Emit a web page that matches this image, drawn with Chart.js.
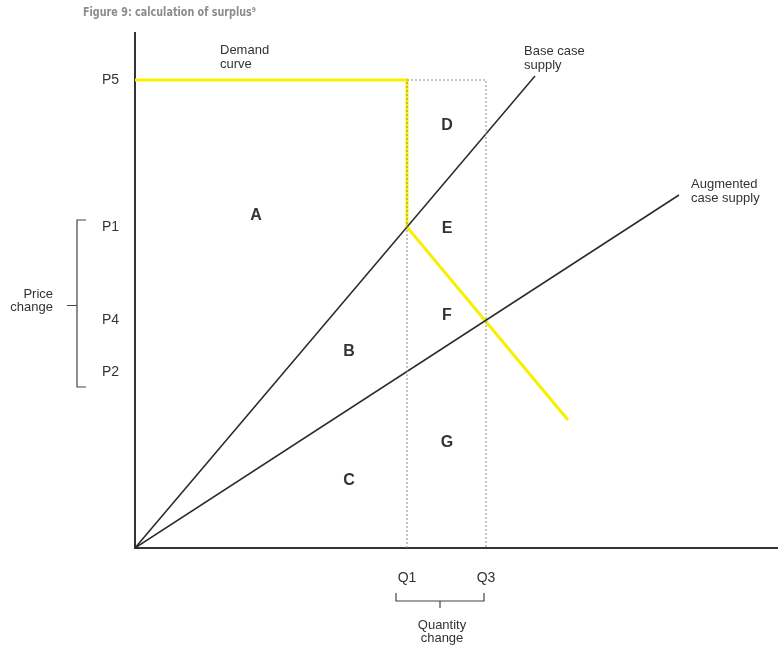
<!DOCTYPE html>
<html>
<head>
<meta charset="utf-8">
<style>
  html, body { margin: 0; padding: 0; background: #fff; }
  #wrap { width: 778px; height: 650px; }
</style>
<script src="https://cdn.jsdelivr.net/npm/chart.js@4.4.1/dist/chart.umd.min.js"></script>
</head>
<body>
<div id="wrap"><canvas id="surplusChart"></canvas></div>
<script>
// quantities / prices in arbitrary units, origin at 0,0
const qTicks = [272, 351];
const qLabels = ['Q1', 'Q3'];
const pTicks = [468, 321, 228, 176];
const pLabels = ['P5', 'P1', 'P4', 'P2'];

const baseSupply = [[0, 0], [400, 472]];
const augSupply = [[0, 0], [544, 353]];
const demand = [[0, 468], [272, 468], [272, 321], [433, 128]];
const quantityBox = [[272, 0], [272, 468], [351, 468], [351, 0]];

const areaNames = ['A', 'B', 'C', 'D', 'E', 'F', 'G'];
const areaQ = [121, 214, 214, 312, 312, 312, 312];
const areaP = [332, 196, 67, 422, 319, 232, 105];

const curveNames = [['Demand', 'curve'], ['Base case', 'supply'], ['Augmented', 'case supply']];
const curveQ = [85, 389, 556];
const curveP = [498, 497, 364];

const toPts = (arr) => arr.map(p => ({ x: p[0], y: p[1] }));

const annotations = {
    id: 'annotations',
    afterDatasetsDraw(chart) {
        const { ctx } = chart;
        const xs = chart.scales.x;
        const ys = chart.scales.y;
        ctx.save();

        // title, squeezed to look like the narrow report font
        ctx.fillStyle = '#8c8c8c';
        ctx.font = 'bold 13px "Liberation Sans Narrow", "DejaVu Sans", sans-serif';
        ctx.textBaseline = 'middle';
        ctx.textAlign = 'left';
        const title = 'Figure 9: calculation of surplus\u2079';
        const w = ctx.measureText(title).width;
        const sx = Math.min(1, 173 / w);
        ctx.save();
        ctx.translate(83, 13);
        ctx.scale(sx, 1);
        ctx.fillText(title, 0, 0);
        ctx.restore();

        // area letters
        ctx.fillStyle = '#333';
        ctx.font = 'bold 16px "Liberation Sans", Arial, sans-serif';
        ctx.textAlign = 'center';
        areaNames.forEach((n, i) => {
            ctx.fillText(n, xs.getPixelForValue(areaQ[i]), ys.getPixelForValue(areaP[i]));
        });

        // curve labels
        ctx.font = '13px "Liberation Sans", Arial, sans-serif';
        ctx.textAlign = 'left';
        curveNames.forEach((lines, i) => {
            const x = xs.getPixelForValue(curveQ[i]);
            const y = ys.getPixelForValue(curveP[i]);
            lines.forEach((t, j) => ctx.fillText(t, x, y + j * 14));
        });

        // price change bracket
        ctx.strokeStyle = '#444';
        ctx.lineWidth = 1.2;
        const bx = 77;
        const top = ys.getPixelForValue(pTicks[1]) - 7;
        const bot = ys.getPixelForValue(pTicks[3]) + 15;
        const mid = (top + bot) / 2 + 2;
        ctx.beginPath();
        ctx.moveTo(bx + 9, top); ctx.lineTo(bx, top); ctx.lineTo(bx, bot); ctx.lineTo(bx + 9, bot);
        ctx.moveTo(bx, mid); ctx.lineTo(bx - 10, mid);
        ctx.stroke();
        ctx.textAlign = 'right';
        ctx.fillText('Price', 53, mid - 11);
        ctx.fillText('change', 53, mid + 2);

        // quantity change bracket
        const left = xs.getPixelForValue(qTicks[0]) - 11;
        const right = xs.getPixelForValue(qTicks[1]) - 2;
        const by = 601;
        const cx = (left + right) / 2;
        ctx.beginPath();
        ctx.moveTo(left, by - 8); ctx.lineTo(left, by); ctx.lineTo(right, by); ctx.lineTo(right, by - 8);
        ctx.moveTo(cx, by); ctx.lineTo(cx, by + 7);
        ctx.stroke();
        ctx.textAlign = 'center';
        ctx.fillText('Quantity', cx + 2, 625);
        ctx.fillText('change', cx + 2, 638);

        ctx.restore();
    }
};

const ctx = document.getElementById('surplusChart');
new Chart(ctx, {
    type: 'scatter',
    data: {
        datasets: [
            {
                data: toPts(quantityBox),
                showLine: true,
                borderColor: '#8a8a8a',
                borderWidth: 1,
                borderDash: [2, 2],
                pointRadius: 0,
                tension: 0
            },
            {
                data: toPts(baseSupply),
                showLine: true,
                borderColor: '#2a2a2a',
                borderWidth: 1.5,
                pointRadius: 0
            },
            {
                data: toPts(augSupply),
                showLine: true,
                borderColor: '#2a2a2a',
                borderWidth: 1.5,
                pointRadius: 0
            },
            {
                data: toPts(demand),
                showLine: true,
                borderColor: '#f7f000',
                borderWidth: 3,
                pointRadius: 0
            }
        ]
    },
    options: {
        responsive: true,
        maintainAspectRatio: false,
        animation: false,
        events: [],
        layout: { padding: { top: 33, left: 0, right: 0, bottom: 0 } },
        plugins: {
            legend: { display: false },
            title: { display: false },
            tooltip: { enabled: false }
        },
        scales: {
            x: {
                type: 'linear',
                min: 0,
                max: 643,
                grid: { display: false, drawTicks: false },
                border: { color: '#333', width: 2 },
                afterBuildTicks: (scale) => { scale.ticks = qTicks.map(v => ({ value: v })); },
                afterFit: (scale) => { scale.height = 102; },
                ticks: {
                    autoSkip: false,
                    maxRotation: 0,
                    padding: 22,
                    color: '#333',
                    font: { family: '"Liberation Sans", Arial, sans-serif', size: 14 },
                    callback: (value, i) => qLabels[i]
                }
            },
            y: {
                type: 'linear',
                min: 0,
                max: 515,
                grid: { display: false, drawTicks: false },
                border: { color: '#333', width: 2 },
                afterBuildTicks: (scale) => { scale.ticks = pTicks.map(v => ({ value: v })); },
                afterFit: (scale) => { scale.width = 135; },
                ticks: {
                    autoSkip: false,
                    padding: 16,
                    color: '#333',
                    font: { family: '"Liberation Sans", Arial, sans-serif', size: 14 },
                    callback: (value, i) => pLabels[i]
                }
            }
        }
    },
    plugins: [annotations]
});
</script>
</body>
</html>
